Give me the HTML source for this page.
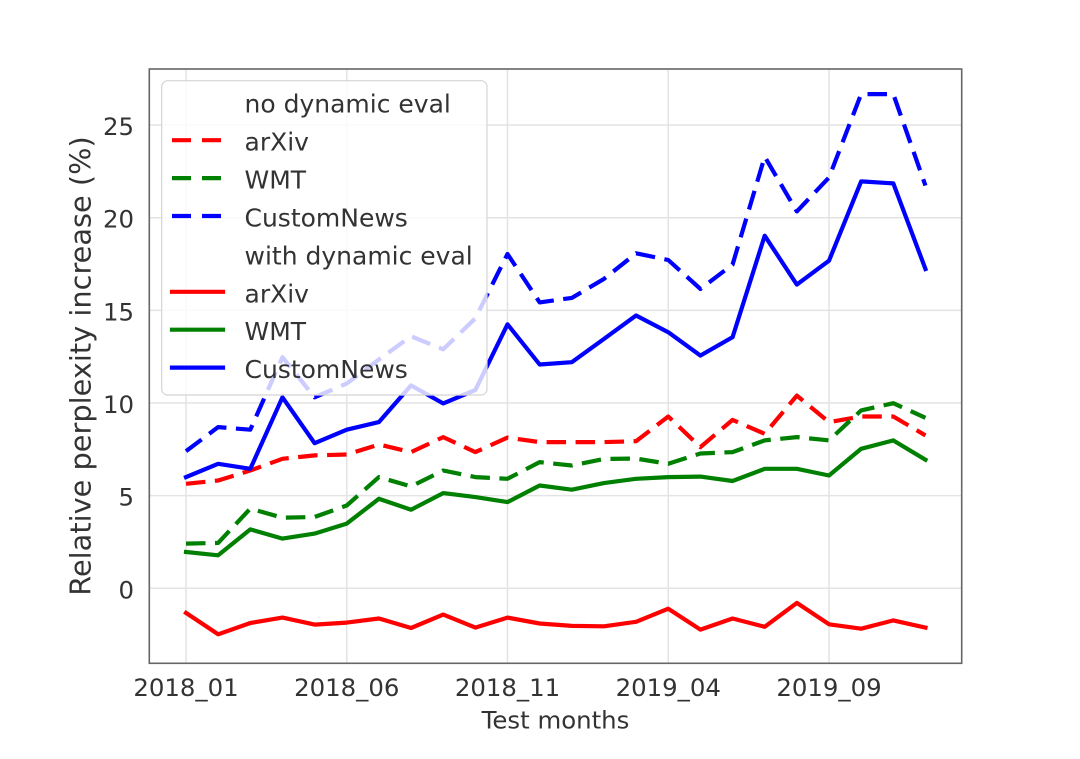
<!DOCTYPE html>
<html>
<head>
<meta charset="utf-8">
<style>
  html, body { margin: 0; padding: 0; background: #ffffff; }
  svg { display: block; }
  text { font-family: "DejaVu Sans", "Liberation Sans", sans-serif; fill: #333333; }
</style>
</head>
<body>
<svg width="1080" height="759" viewBox="0 0 1080 759" xmlns="http://www.w3.org/2000/svg">
  <rect x="0" y="0" width="1080" height="759" fill="#ffffff"/>
  <!-- grid -->
  <g stroke="#e3e3e3" stroke-width="1.5" fill="none">
    <line x1="149.3" y1="588.3" x2="961.7" y2="588.3"/>
    <line x1="149.3" y1="495.65" x2="961.7" y2="495.65"/>
    <line x1="149.3" y1="403.0" x2="961.7" y2="403.0"/>
    <line x1="149.3" y1="310.35" x2="961.7" y2="310.35"/>
    <line x1="149.3" y1="217.7" x2="961.7" y2="217.7"/>
    <line x1="149.3" y1="125.05" x2="961.7" y2="125.05"/>
    <line x1="186" y1="69" x2="186" y2="663.3"/>
    <line x1="346.75" y1="69" x2="346.75" y2="663.3"/>
    <line x1="507.5" y1="69" x2="507.5" y2="663.3"/>
    <line x1="668.25" y1="69" x2="668.25" y2="663.3"/>
    <line x1="829" y1="69" x2="829" y2="663.3"/>
  </g>

  <!-- dashed series (no dynamic eval) -->
  <g fill="none" stroke-width="4.2" stroke-dasharray="19.5 9.5" stroke-linecap="butt" stroke-linejoin="round">
    <polyline stroke="#ff0000" points="186,483.8 218.15,480.5 250.3,470.5 282.45,458.8 314.6,455.4 346.75,454.5 378.9,444.5 411.05,452.1 443.2,437.1 475.35,452.1 507.5,437.6 539.65,442.1 571.8,442.1 603.95,442.1 636.1,441.2 668.25,416.5 700.4,447.1 732.55,419.9 764.7,433.8 796.85,395.6 829,422.1 861.15,416.5 893.3,416.5 925.45,435.4"/>
    <polyline stroke="#008000" points="186,543.6 218.15,542.9 250.3,508.6 282.45,517.7 314.6,517.0 346.75,505.5 378.9,477.1 411.05,486.4 443.2,470.5 475.35,477.1 507.5,478.8 539.65,462.1 571.8,465.5 603.95,458.9 636.1,458.6 668.25,463.8 700.4,453.5 732.55,452.1 764.7,440.4 796.85,437.1 829,440.4 861.15,410.4 893.3,403.2 925.45,417.8"/>
    <polyline stroke="#0000ff" points="186,451.2 218.15,427.1 250.3,429.7 282.45,357.2 314.6,397.3 346.75,383.5 378.9,359.5 411.05,336.3 443.2,349.3 475.35,318.3 507.5,254.0 539.65,302.4 571.8,297.9 603.95,278.9 636.1,253.3 668.25,260.0 700.4,288.9 732.55,264.6 764.7,156.7 796.85,211.4 829,177.5 861.15,94.1 893.3,94.1 925.45,185.6"/>
  </g>

  <!-- solid series (with dynamic eval) -->
  <g fill="none" stroke-width="4.2" stroke-linecap="square" stroke-linejoin="round">
    <polyline stroke="#ff0000" points="186,612.9 218.15,634.3 250.3,623.0 282.45,617.6 314.6,624.6 346.75,622.6 378.9,618.5 411.05,628.0 443.2,614.6 475.35,627.6 507.5,617.6 539.65,623.5 571.8,625.9 603.95,626.3 636.1,621.8 668.25,608.7 700.4,629.6 732.55,618.5 764.7,626.8 796.85,602.9 829,624.3 861.15,628.7 893.3,620.4 925.45,627.6"/>
    <polyline stroke="#008000" points="186,552.0 218.15,555.3 250.3,529.4 282.45,538.6 314.6,533.6 346.75,523.6 378.9,498.8 411.05,509.7 443.2,493.1 475.35,497.1 507.5,502.1 539.65,485.5 571.8,489.7 603.95,483.1 636.1,478.8 668.25,477.1 700.4,476.6 732.55,481.0 764.7,468.8 796.85,468.8 829,475.5 861.15,448.8 893.3,440.4 925.45,459.7"/>
    <polyline stroke="#0000ff" points="186,477.1 218.15,463.8 250.3,468.8 282.45,397.3 314.6,443.2 346.75,429.7 378.9,422.1 411.05,385.4 443.2,403.4 475.35,390.0 507.5,324.3 539.65,364.5 571.8,362.2 603.95,338.9 636.1,315.5 668.25,332.2 700.4,355.6 732.55,337.2 764.7,235.7 796.85,284.6 829,260.7 861.15,181.4 893.3,183.4 925.45,269.0"/>
  </g>

  <!-- frame -->
  <rect x="149.3" y="69" width="812.4" height="594.3" fill="none" stroke="#666666" stroke-width="1.6"/>

  <!-- legend -->
  <rect x="161.7" y="80.7" width="325.3" height="314.3" rx="6" ry="6" fill="#ffffff" fill-opacity="0.8" stroke="#d4d4d4" stroke-width="1.2"/>
  <g fill="none" stroke-width="4.2">
    <line x1="172" y1="140.2" x2="223" y2="140.2" stroke="#ff0000" stroke-dasharray="19 11"/>
    <line x1="172" y1="178.1" x2="223" y2="178.1" stroke="#008000" stroke-dasharray="19 11"/>
    <line x1="172" y1="216.0" x2="223" y2="216.0" stroke="#0000ff" stroke-dasharray="19 11"/>
    <line x1="172" y1="291.8" x2="223" y2="291.8" stroke="#ff0000" stroke-linecap="square"/>
    <line x1="172" y1="329.7" x2="223" y2="329.7" stroke="#008000" stroke-linecap="square"/>
    <line x1="172" y1="367.6" x2="223" y2="367.6" stroke="#0000ff" stroke-linecap="square"/>
  </g>
  <g font-size="25">
    <text x="244.5" y="112.3">no dynamic eval</text>
    <text x="244.5" y="150.7">arXiv</text>
    <text x="244.5" y="188.6">WMT</text>
    <text x="244.5" y="226.5">CustomNews</text>
    <text x="244.5" y="264.4">with dynamic eval</text>
    <text x="244.5" y="302.3">arXiv</text>
    <text x="244.5" y="340.2">WMT</text>
    <text x="244.5" y="378.1">CustomNews</text>
  </g>

  <!-- y tick labels -->
  <g font-size="24.4" text-anchor="end">
    <text x="134" y="598.3">0</text>
    <text x="134" y="505.65">5</text>
    <text x="134" y="413.0">10</text>
    <text x="134" y="320.35">15</text>
    <text x="134" y="227.7">20</text>
    <text x="134" y="135.05">25</text>
  </g>
  <!-- x tick labels -->
  <g font-size="24.4" text-anchor="middle">
    <text x="186" y="695.8">2018_01</text>
    <text x="346.75" y="695.8">2018_06</text>
    <text x="507.5" y="695.8">2018_11</text>
    <text x="668.25" y="695.8">2019_04</text>
    <text x="829" y="695.8">2019_09</text>
  </g>
  <!-- axis labels -->
  <text x="555.5" y="728.5" font-size="24.4" text-anchor="middle">Test months</text>
  <text x="90.5" y="366" font-size="28.8" text-anchor="middle" transform="rotate(-90 90.5 366)">Relative perplexity increase (%)</text>
</svg>
</body>
</html>
